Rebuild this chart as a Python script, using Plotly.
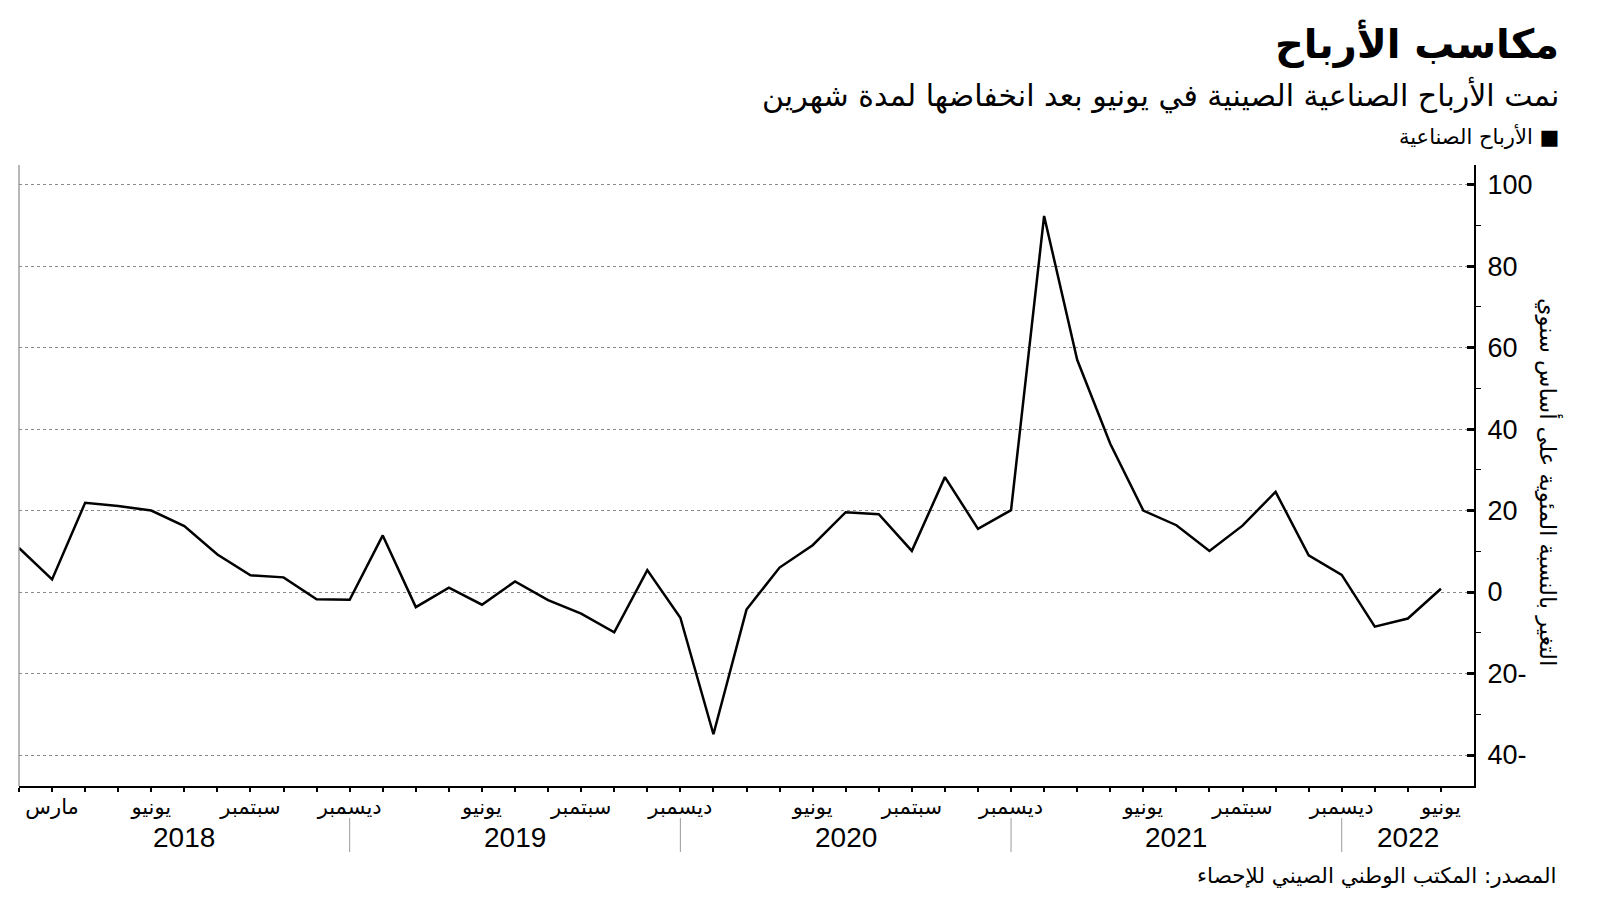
import plotly.graph_objects as go

# ---- data ----
periods = ["2017-12",
           "2018-03", "2018-04", "2018-05", "2018-06", "2018-07", "2018-08", "2018-09", "2018-10", "2018-11", "2018-12",
           "2019-03", "2019-04", "2019-05", "2019-06", "2019-07", "2019-08", "2019-09", "2019-10", "2019-11", "2019-12",
           "2020-03", "2020-04", "2020-05", "2020-06", "2020-07", "2020-08", "2020-09", "2020-10", "2020-11", "2020-12",
           "2021-03", "2021-04", "2021-05", "2021-06", "2021-07", "2021-08", "2021-09", "2021-10", "2021-11", "2021-12",
           "2022-04", "2022-05", "2022-06"]
profits = [10.8,
           3.1, 21.9, 21.1, 20.0, 16.2, 9.2, 4.1, 3.6, -1.8, -1.9,
           13.9, -3.7, 1.1, -3.1, 2.6, -2.0, -5.3, -9.9, 5.4, -6.3,
           -34.9, -4.3, 6.0, 11.5, 19.6, 19.1, 10.1, 28.2, 15.5, 20.1,
           92.3, 57.0, 36.4, 20.0, 16.4, 10.1, 16.3, 24.6, 9.0, 4.2,
           -8.5, -6.5, 0.8]

month_label_idx = [1, 4, 7, 10, 14, 17, 20, 24, 27, 30, 34, 37, 40, 43]
month_label_txt = ["مارس", "يونيو", "سبتمبر", "ديسمبر",
                   "يونيو", "سبتمبر", "ديسمبر",
                   "يونيو", "سبتمبر", "ديسمبر",
                   "يونيو", "سبتمبر", "ديسمبر",
                   "يونيو"]
year_labels = ["2018", "2019", "2020", "2021", "2022"]
year_centers = [5, 15, 25, 35, 42]
year_breaks = [10, 20, 30, 40]

y_tickvals = [-40, -20, 0, 20, 40, 60, 80, 100]
y_ticktext = ["40-", "20-", "0", "20", "40", "60", "80", "100"]

title = "مكاسب الأرباح"
subtitle = "نمت الأرباح الصناعية الصينية في يونيو بعد انخفاضها لمدة شهرين"
series_name = "الأرباح الصناعية"
y_title = "التغير بالنسبة المئوية على أساس سنوي"
source = "المصدر: المكتب الوطني الصيني للإحصاء"

# ---- figure ----
W, H = 1600, 901
L, R, T, B = 19, 126, 165, 115
pw, ph = W - L - R, H - T - B

def px_x(p):
    return (p - L) / pw

def px_y(p):
    return (H - B - p) / ph

AR = "DejaVu Sans"
NUM = "Liberation Sans"

x_idx = list(range(len(profits)))
tick_text = [""] * len(profits)
for i, t in zip(month_label_idx, month_label_txt):
    tick_text[i] = t

fig = go.Figure()
fig.add_trace(go.Scatter(x=x_idx, y=profits, mode="lines", name=series_name,
                         line=dict(color="black", width=2.5), hoverinfo="y",
                         showlegend=False))

fig.update_layout(
    width=W, height=H,
    margin=dict(l=L, r=R, t=T, b=B, pad=0),
    paper_bgcolor="white", plot_bgcolor="white",
    showlegend=False,
    xaxis=dict(range=[0, len(profits)], tickmode="array", tickvals=x_idx,
               ticktext=tick_text, ticks="outside", ticklen=4, tickwidth=1.5,
               tickcolor="black", showline=True, linecolor="black", linewidth=1.5,
               showgrid=False, zeroline=False,
               tickfont=dict(family=AR, size=21, color="black"),
               tickangle=0, ticklabelstandoff=-3),
    yaxis=dict(range=[-47.6, 104.8], side="right", tickmode="array",
               tickvals=y_tickvals, ticktext=y_ticktext,
               ticks="inside", ticklen=7, tickwidth=2.5, tickcolor="black",
               showline=True, linecolor="black", linewidth=2,
               showgrid=True, gridcolor="#8a8a8a", gridwidth=1, griddash="dot",
               zeroline=False,
               tickfont=dict(family=NUM, size=27, color="black"),
               ticklabelstandoff=6,
               minor=dict(tickmode="linear", tick0=10, dtick=20, ticks="outside",
                          ticklen=5, tickwidth=1, tickcolor="black", showgrid=False)),
)

# left thin grey axis line
fig.add_shape(type="line", xref="paper", yref="paper", x0=0, x1=0, y0=0, y1=1,
              line=dict(color="#888888", width=1.2))

# year separators and labels
for xb in year_breaks:
    fig.add_shape(type="line", xref="x", yref="paper", x0=xb, x1=xb,
                  y0=px_y(818), y1=px_y(852), line=dict(color="#9a9a9a", width=1))
for xc, yl in zip(year_centers, year_labels):
    fig.add_annotation(x=xc, xref="x", y=px_y(837), yref="paper", text=yl,
                       showarrow=False, xanchor="center", yanchor="middle",
                       font=dict(family=NUM, size=28, color="black"))

RX = px_x(1561)
# titles
fig.add_annotation(x=RX, y=px_y(43), xref="paper", yref="paper", text="<b>" + title + "</b>",
                   showarrow=False, xanchor="right", yanchor="middle",
                   font=dict(family=AR, size=40, color="black"))
fig.add_annotation(x=RX, y=px_y(95), xref="paper", yref="paper", text=subtitle,
                   showarrow=False, xanchor="right", yanchor="middle",
                   font=dict(family=AR, size=30, color="black"))
fig.add_annotation(x=RX, y=px_y(136), xref="paper", yref="paper", text=series_name + " ■",
                   showarrow=False, xanchor="right", yanchor="middle",
                   font=dict(family=AR, size=21, color="black"))
fig.add_annotation(x=px_x(1558), y=px_y(875), xref="paper", yref="paper", text=source,
                   showarrow=False, xanchor="right", yanchor="middle",
                   font=dict(family=AR, size=21.5, color="black"))
# y-axis title
fig.add_annotation(x=px_x(1549), y=px_y(482), xref="paper", yref="paper", text=y_title,
                   showarrow=False, xanchor="center", yanchor="middle", textangle=90,
                   font=dict(family=AR, size=22.5, color="black"))

fig.write_html("out.html")
